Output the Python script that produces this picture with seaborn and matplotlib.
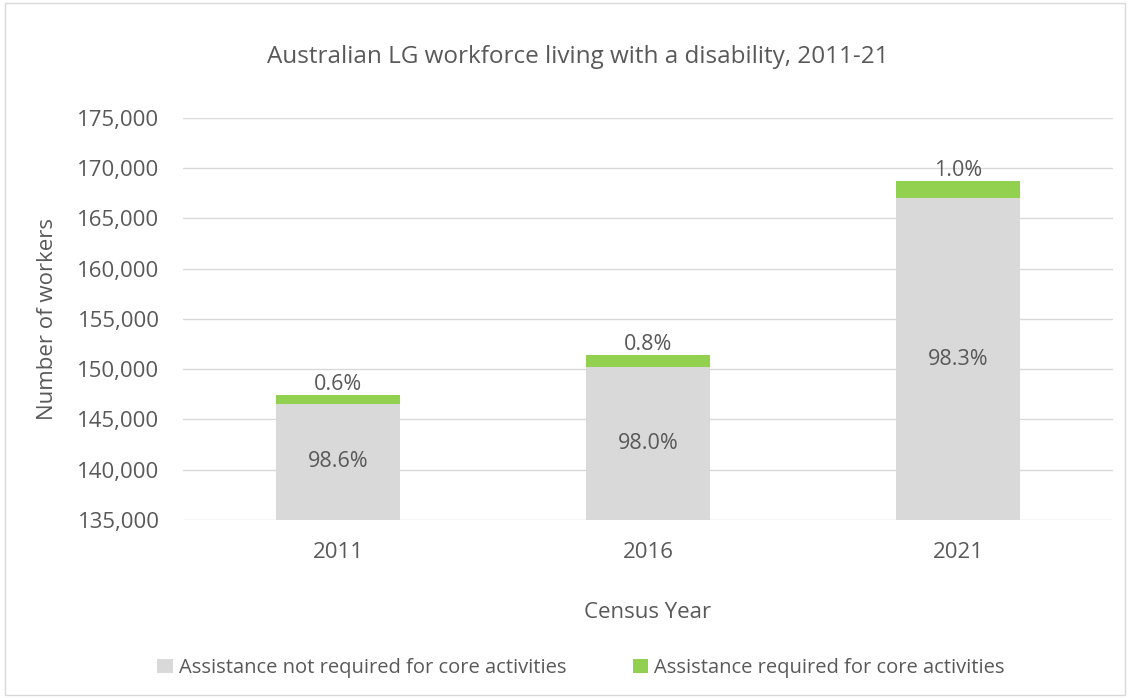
import matplotlib
matplotlib.use("Agg")
import matplotlib.pyplot as plt
from matplotlib.patches import Patch, Rectangle
from matplotlib.ticker import FuncFormatter
import seaborn as sns
import pandas as pd

# Census data: LG workers by need for assistance with core activities
years = ["2011", "2016", "2021"]
not_required = [146560, 150190, 167020]
required = [900, 1230, 1700]
pct_not_required = ["98.6%", "98.0%", "98.3%"]
pct_required = ["0.6%", "0.8%", "1.0%"]

series_names = ["Assistance not required for core activities",
                "Assistance required for core activities"]
GREY = "#d9d9d9"
GREEN = "#92d050"
TEXT = "#595959"

sns.set_theme(style="white")
plt.rcParams["font.family"] = ["Open Sans", "DejaVu Sans"]

df = pd.DataFrame({
    "year": years,
    "not_required": not_required,
    "total": [a + b for a, b in zip(not_required, required)],
})

fig = plt.figure(figsize=(11.3, 6.98), dpi=100)
ax = fig.add_axes([0.162, 0.255, 0.823, 0.576])

# stacked bars: total behind, lower segment in front
sns.barplot(data=df, x="year", y="total", color=GREEN, saturation=1,
            width=0.4, linewidth=0, ax=ax, zorder=2)
sns.barplot(data=df, x="year", y="not_required", color=GREY, saturation=1,
            width=0.4, linewidth=0, ax=ax, zorder=3)

ax.set_ylim(135000, 175000)
ax.set_xlim(-0.5, 2.5)
ax.set_yticks(range(135000, 175001, 5000))
ax.yaxis.set_major_formatter(FuncFormatter(lambda v, p: f"{int(v):,}"))
ax.grid(axis="y", color=GREY, linewidth=1, zorder=0)
ax.set_axisbelow(True)
for s in ax.spines.values():
    s.set_visible(False)
ax.tick_params(axis="both", length=0, colors=TEXT, labelsize=16)
ax.tick_params(axis="x", pad=16)
ax.tick_params(axis="y", pad=17)

ax.set_xlabel("Census Year", fontsize=16, color=TEXT, labelpad=28)
ax.set_ylabel("Number of workers", fontsize=16, color=TEXT, labelpad=14)

# value labels
for i in range(len(years)):
    mid = 135000 + (not_required[i] - 135000) / 2
    ax.text(i, mid, pct_not_required[i], ha="center", va="center",
            fontsize=15.5, color=TEXT, zorder=5)
    ax.annotate(pct_required[i], (i, not_required[i] + required[i]),
                xytext=(0, 0), textcoords="offset points",
                ha="center", va="bottom", fontsize=15.5, color=TEXT, zorder=5)

fig.text(0.511, 0.918, "Australian LG workforce living with a disability, 2011-21",
         ha="center", va="center", fontsize=17.5, color=TEXT)

handles = [Patch(facecolor=GREY, edgecolor="none"),
           Patch(facecolor=GREEN, edgecolor="none")]
fig.legend(handles, series_names, loc="center", bbox_to_anchor=(0.514, 0.043),
           ncol=2, frameon=False, fontsize=14.5, labelcolor=TEXT,
           handlelength=0.75, handleheight=0.75, handletextpad=0.3,
           columnspacing=3.3)

fig.patches.append(Rectangle((0.004, 0.004), 0.992, 0.992, transform=fig.transFigure,
                             fill=False, edgecolor=GREY, linewidth=1))

fig.savefig("out.png", dpi=100, facecolor="white")
